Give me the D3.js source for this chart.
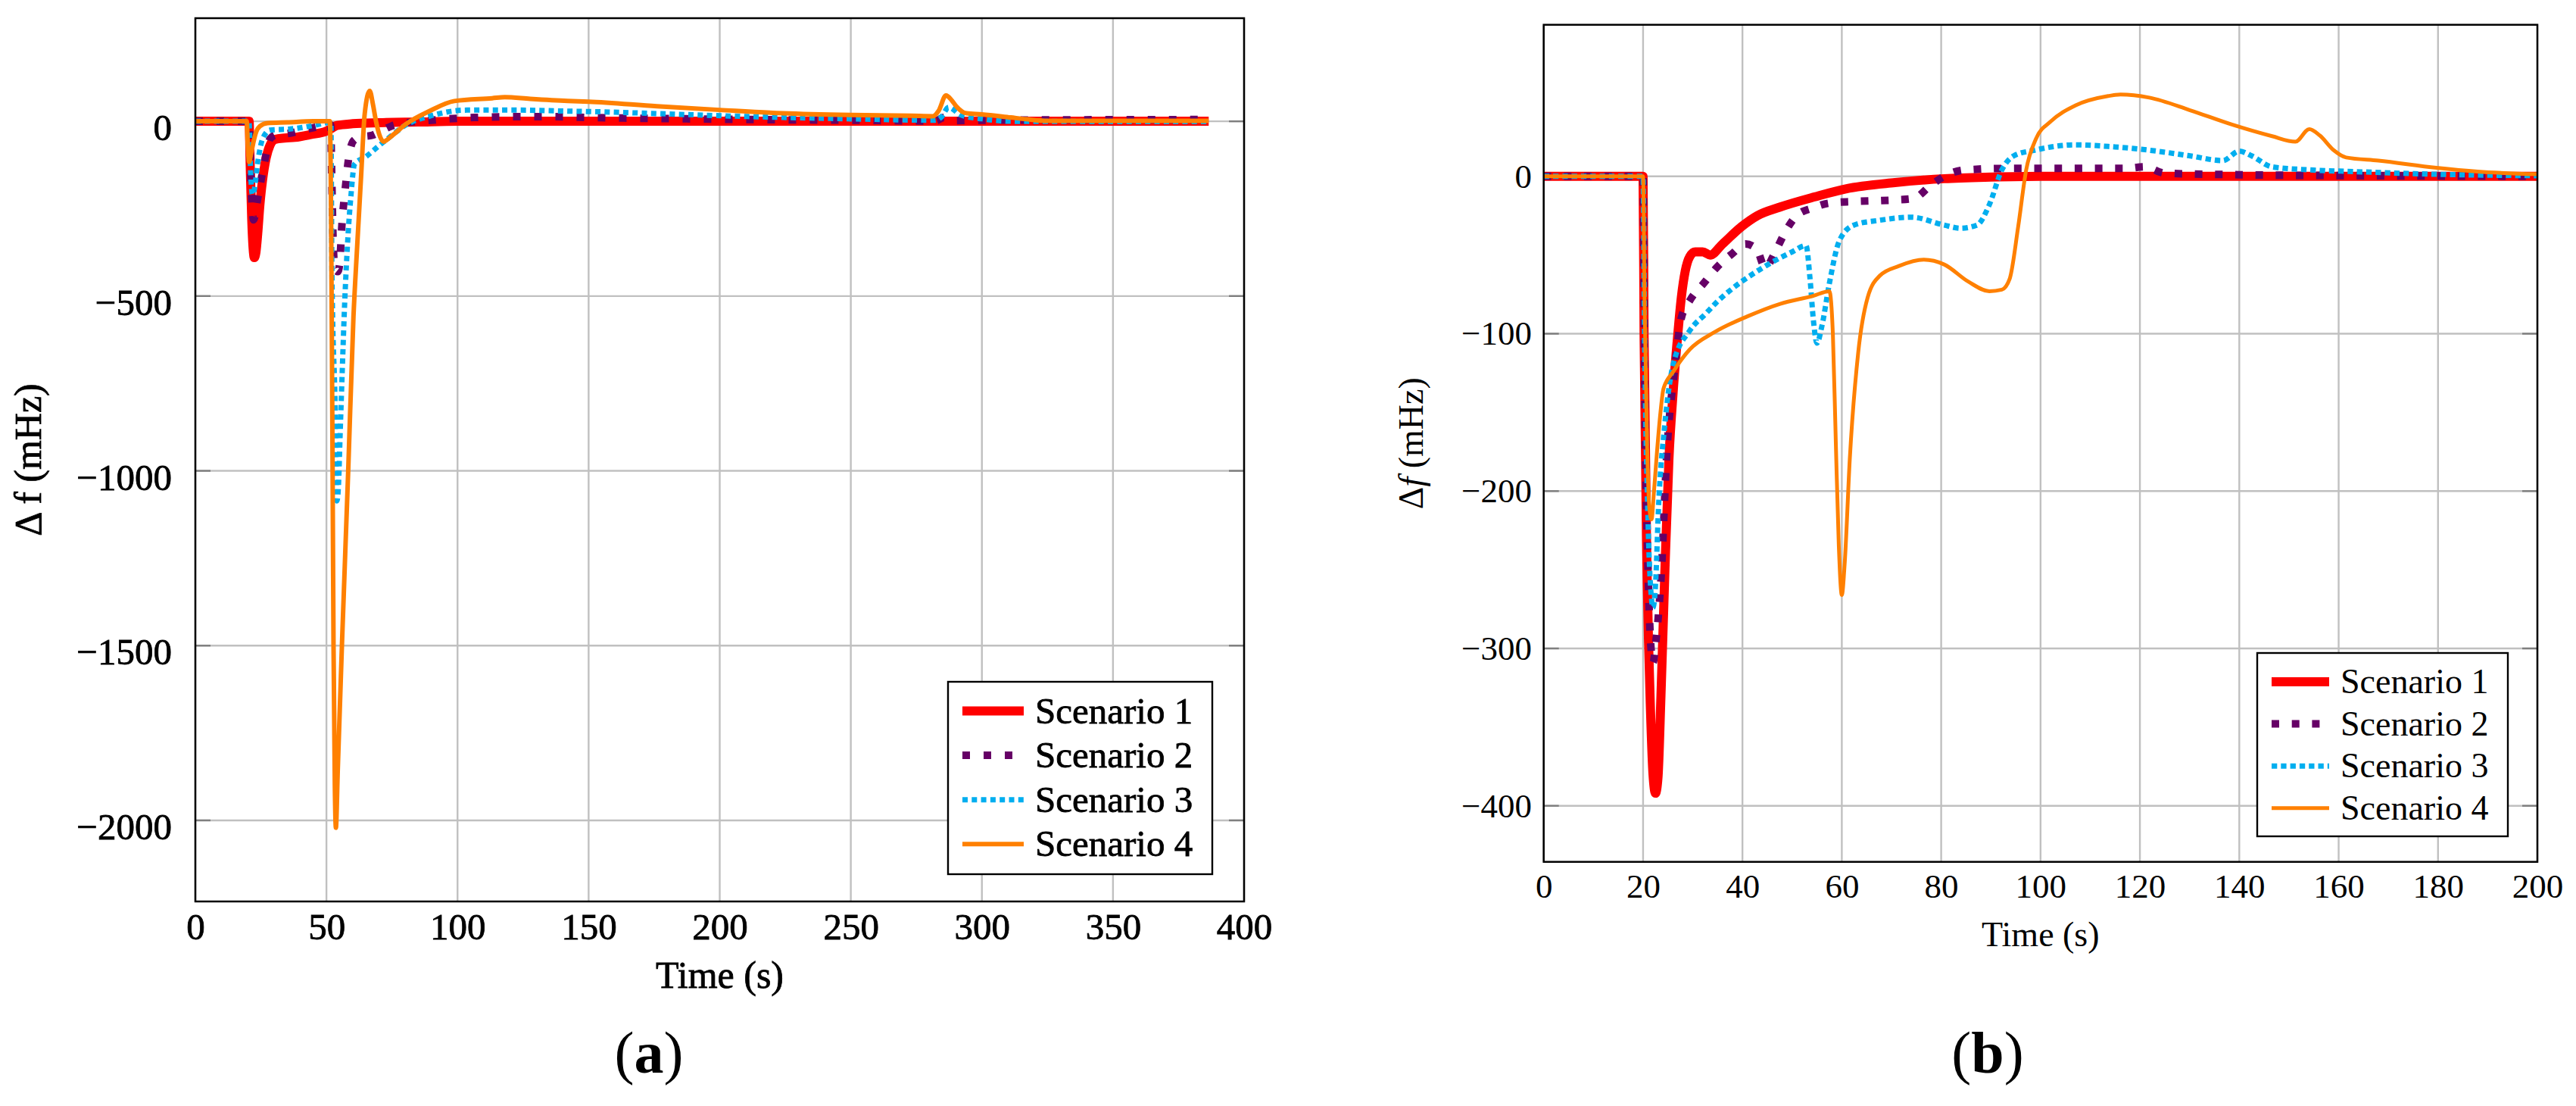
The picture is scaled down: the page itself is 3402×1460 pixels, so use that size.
<!DOCTYPE html>
<html><head><meta charset="utf-8">
<script src="https://cdn.jsdelivr.net/npm/d3@7"></script>
<style>body{margin:0;background:#fff} svg text{font-family:'Liberation Serif','DejaVu Serif',serif !important;fill:#000}</style>
</head><body><svg id="c" width="3402" height="1460"></svg>
<script>
// ---------- data ----------
const scenarios = ["Scenario 1", "Scenario 2", "Scenario 3", "Scenario 4"];
const colors = ["#ff0000", "#660066", "#00aeef", "#ff8000"];

const xTicksA = [0, 50, 100, 150, 200, 250, 300, 350, 400];
const yTicksA = [0, -500, -1000, -1500, -2000];
const xTicksB = [0, 20, 40, 60, 80, 100, 120, 140, 160, 180, 200];
const yTicksB = [0, -100, -200, -300, -400];

// Panel (a): [time s, delta f mHz]
const A_S1 = [[0,0],[20.5,0],[20.9,-120],[21.5,-280],[22,-360],[22.5,-390],[23.1,-375],[23.8,-320],[24.6,-240],[25.6,-170],[27,-105],[28.5,-68],[30.4,-52],[34,-48],[38,-46],[44,-38],[50,-28],[52,-20],[54,-12],[60,-7],[70,-4],[85,-2],[100,0],[200,0],[386.5,0]];
const A_S2 = [[0,0],[20.5,0],[20.9,-100],[21.5,-220],[22.2,-282],[22.9,-265],[23.8,-220],[25.1,-166],[26.6,-108],[28.5,-50],[31,-38],[35.2,-35],[42.9,-22],[50.2,-11],[51.6,-10],[52,-150],[52.5,-330],[53.2,-420],[54.3,-430],[55,-410],[55.9,-296],[57.4,-177],[58.3,-115],[60.3,-56],[63,-45],[67.5,-40],[71,-27],[74.7,-14],[80,-5],[90,3],[106.5,11],[122,13],[137,13],[150,11],[200,6],[250,3],[282,1],[285.7,11],[289,2],[300,3],[386.5,5]];
const A_S3 = [[0,0],[20.5,0],[20.9,-110],[21.8,-210],[22.6,-190],[23.7,-123],[25.6,-51],[28.5,-25],[36.2,-22],[45.8,-11],[50.2,-4],[51.7,-4],[52.1,-436],[53.3,-809],[54,-1086],[54.6,-1040],[55.2,-900],[56,-720],[56.9,-530],[58.3,-318],[59.3,-217],[60.7,-123],[65.1,-101],[70.8,-65],[75,-40],[79.5,-14],[89.1,14],[103.6,32],[123,32],[142,29],[150,28],[176,22],[200,16],[224,11],[250,7],[273,3.6],[282,3],[284.5,12],[287.3,40],[292,18],[300,7],[311,0],[386.5,-1]];
const A_S4 = [[0,0],[19.6,0],[20,-70],[20.5,-116],[21.2,-95],[22.2,-58],[23.2,-30],[24.6,-14],[27.5,-5],[35,-3],[45,0],[51.3,0],[51.8,-300],[52.2,-800],[52.7,-1500],[53.2,-1900],[53.6,-2021],[54.3,-1860],[55.9,-1500],[58.3,-1000],[60.3,-560],[61.7,-360],[63.2,-159],[64.6,22],[66.5,87],[67.7,50],[68.9,0],[70.5,-45],[71.8,-58],[74.7,-43],[80.5,-7],[89.2,29],[98.8,58],[113.2,66],[118,69],[127.7,64],[142,58],[150,56],[176,43],[200,32.5],[224,23],[250,18],[273,16],[281.3,14.5],[283.5,30],[286.3,74],[288.5,60],[290.2,43],[294.1,23],[300,20],[311,11],[317,6],[325,1.5],[386.5,1.4]];

// Panel (b): [time s, delta f mHz]
const B_S1 = [[0,0],[20,0],[20.2,-100],[20.8,-250],[21.5,-340],[22,-380],[22.5,-392],[23,-382],[23.6,-330],[24.4,-250],[25.2,-180],[26.1,-135],[27,-100],[27.7,-77],[28.5,-60],[29.4,-51],[30.5,-48],[32,-48],[33.5,-50],[36,-43],[39.8,-32],[43,-25],[47.5,-19.6],[54.6,-13],[60.8,-8],[70.7,-4],[80.6,-1.5],[90,-0.5],[100,0],[200,0]];
const B_S2 = [[0,0],[20,0],[20.3,-120],[21,-250],[21.6,-300],[22,-309],[22.6,-295],[23.6,-256],[24.8,-175],[26.4,-121],[27.7,-90],[29.4,-79],[32.2,-68],[34.8,-58],[38,-49],[40.6,-43],[42.8,-46],[44.6,-58],[46.6,-48],[48.5,-36],[50.9,-25],[54.2,-20],[57.5,-17],[62.4,-16],[70.7,-15],[74.5,-14],[77.8,-6],[80.6,0],[84.7,4],[93,5],[100.4,5],[117,5],[121,6],[125,2],[140,1],[160,0.5],[200,0]];
const B_S3 = [[0,0],[20,0],[20.3,-100],[21,-220],[21.6,-265],[22,-274],[22.5,-260],[23.1,-211],[24.4,-157],[26.1,-119],[29.4,-98],[32.7,-87],[34.8,-80],[37.7,-72],[42.6,-61],[44.9,-56.5],[50,-48],[52.8,-44],[53.6,-65],[54.3,-92],[55,-106],[56,-95],[57.5,-68],[59.5,-41],[62.4,-31],[67.4,-28],[74,-26],[80.6,-31],[83.9,-33],[87.2,-31],[89.7,-18],[92.2,4],[94.6,13],[98.8,16.6],[107,20],[113.6,19],[121.9,16.6],[130.1,13],[136.7,10],[140,16],[142.5,13],[146.6,6],[154.9,4],[163.2,3],[179.7,1.3],[200,0.4]];
const B_S4 = [[0,0],[20,0],[20.3,-80],[20.8,-170],[21.3,-212],[21.7,-218],[22.2,-200],[22.8,-175],[23.5,-150],[24.1,-135],[26.1,-124],[29.4,-110],[34.4,-99],[41,-89],[47.6,-81],[54.2,-76],[57.5,-73],[58.2,-100],[58.8,-170],[59.4,-235],[60,-266],[60.6,-245],[61.6,-180],[63.3,-112],[65.2,-77],[67.7,-63],[71.5,-57],[76.5,-53],[80.6,-56],[85.5,-67],[89.7,-73],[92.2,-72],[93.8,-65],[95.5,-32],[97.1,4],[99.1,24],[102.1,35],[107,45],[113.6,51],[116.1,52],[121.9,50],[130.1,42],[138.4,33],[146.6,25.5],[151.3,22],[154.1,30],[156.2,26],[159,16.6],[161.5,12],[168,10],[179.7,5.4],[188,3],[200,1.3]];

// ---------- drawing ----------
const FONT = "'Liberation Serif','DejaVu Serif',serif";
const svg = d3.select("#c");
svg.append("rect").attr("width",3402).attr("height",1460).attr("fill","#fff");

function styleText(sel, bold) {
  sel.style("font-family", FONT).style("fill", "#000")
     .style("stroke", bold ? "#000" : "none").style("stroke-width", bold ? 0.8 : 0);
  return sel;
}

function drawPanel(p) {
  const g = svg.append("g");
  const x = d3.scaleLinear().domain(p.xDomain).range([p.left, p.right]);
  const y = d3.scaleLinear().domain(p.yDomain).range([p.bottom, p.top]);
  const W = p.right - p.left, H = p.bottom - p.top;

  // grid
  g.append("g").selectAll("line").data(p.xTicks).join("line")
    .attr("x1", d => x(d)).attr("x2", d => x(d)).attr("y1", p.top).attr("y2", p.bottom)
    .attr("stroke", "#c0c0c0").attr("stroke-width", 2.4);
  g.append("g").selectAll("line").data(p.yTicks).join("line")
    .attr("x1", p.left).attr("x2", p.right).attr("y1", d => y(d)).attr("y2", d => y(d))
    .attr("stroke", "#c0c0c0").attr("stroke-width", 2.4);
  // inner y ticks (left and right)
  g.append("g").selectAll("line").data(p.yTicks).join("line")
    .attr("x1", p.left).attr("x2", p.left + 20).attr("y1", d => y(d)).attr("y2", d => y(d))
    .attr("stroke", "#7f7f7f").attr("stroke-width", 2.4);
  g.append("g").selectAll("line").data(p.yTicks).join("line")
    .attr("x1", p.right - 20).attr("x2", p.right).attr("y1", d => y(d)).attr("y2", d => y(d))
    .attr("stroke", "#7f7f7f").attr("stroke-width", 2.4);

  // clip
  svg.append("clipPath").attr("id", p.id + "clip").append("rect")
    .attr("x", p.left).attr("y", p.top).attr("width", W).attr("height", H);

  const line = d3.line().x(d => x(d[0])).y(d => y(d[1])).curve(d3.curveMonotoneX);
  const lg = g.append("g").attr("clip-path", `url(#${p.id}clip)`);
  p.series.forEach((s, i) => {
    const st = p.styles[i];
    lg.append("path").attr("d", line(s)).attr("fill", "none")
      .attr("stroke", colors[i]).attr("stroke-width", st.w)
      .attr("stroke-dasharray", st.dash || null)
      .attr("stroke-linejoin", "round");
  });

  // frame
  g.append("rect").attr("x", p.left).attr("y", p.top).attr("width", W).attr("height", H)
    .attr("fill", "none").attr("stroke", "#000").attr("stroke-width", 2.5);

  // tick labels via d3 axes
  const fmt = d3.format("d");
  const ax = g.append("g").attr("transform", `translate(0,${p.bottom})`)
    .call(d3.axisBottom(x).tickValues(p.xTicks).tickFormat(fmt).tickSize(0).tickPadding(p.xPad));
  ax.attr("font-family", null);
  ax.select(".domain").remove();
  styleText(ax.selectAll("text").attr("font-size", p.tickFont), p.bold);
  const ay = g.append("g").attr("transform", `translate(${p.left},0)`)
    .call(d3.axisLeft(y).tickValues(p.yTicks).tickFormat(fmt).tickSize(0).tickPadding(p.yPad));
  ay.attr("font-family", null);
  ay.select(".domain").remove();
  styleText(ay.selectAll("text").attr("font-size", p.tickFont).attr("dy", p.yDy), p.bold);

  // axis titles
  styleText(g.append("text").attr("x", (p.left + p.right) / 2).attr("y", p.xLabelY)
    .attr("text-anchor", "middle").attr("font-size", p.labelFont)
    .text("Time (s)"), p.bold);
  const yl = styleText(g.append("text").attr("transform", `translate(${p.yLabelX},${(p.top + p.bottom) / 2}) rotate(-90)`)
    .attr("text-anchor", "middle").attr("dy", "0.28em").attr("font-size", p.labelFont), p.bold);
  yl.append("tspan").text(p.italicF ? "Δ" : "Δ f");
  if (p.italicF) yl.append("tspan").style("font-style", "italic").text("f");
  yl.append("tspan").text(" (mHz)");

  // legend
  const L = p.legend;
  g.append("rect").attr("x", L.x0).attr("y", L.y0).attr("width", L.x1 - L.x0).attr("height", L.y1 - L.y0)
    .attr("fill", "#fff").attr("stroke", "#000").attr("stroke-width", 2.4);
  scenarios.forEach((name, i) => {
    const ry = L.row0 + i * L.rowH;
    const st = p.styles[i];
    g.append("line").attr("x1", L.s0).attr("x2", L.s1).attr("y1", ry).attr("y2", ry)
      .attr("stroke", colors[i]).attr("stroke-width", st.w).attr("stroke-dasharray", st.dash || null);
    styleText(g.append("text").attr("x", L.tx).attr("y", ry).attr("dy", "0.33em")
      .attr("font-size", L.font).text(name), p.bold);
  });

  // caption
  const cap = styleText(svg.append("text").attr("x", p.capX).attr("y", p.capY).attr("text-anchor", "middle")
    .attr("font-size", 78), false);
  cap.append("tspan").text("(");
  cap.append("tspan").style("font-weight", "bold").text(p.capLetter);
  cap.append("tspan").text(")");
}

drawPanel({
  id: "a", left: 258, right: 1643, top: 24, bottom: 1190,
  xDomain: [0, 400], yDomain: [-2232, 295],
  xTicks: xTicksA, yTicks: yTicksA,
  series: [A_S1, A_S2, A_S3, A_S4],
  styles: [{w: 12}, {w: 10, dash: "10 18"}, {w: 7, dash: "7 5.3"}, {w: 6}],
  tickFont: 49, xPad: 15, yPad: 31, yDy: "0.5em", labelFont: 50, bold: true,
  xLabelY: 1304, yLabelX: 40, italicF: false,
  legend: {x0: 1252, x1: 1601, y0: 900, y1: 1154, row0: 938.5, rowH: 58.6, s0: 1271, s1: 1352, tx: 1367, font: 49},
  capX: 857, capY: 1416, capLetter: "a"
});

drawPanel({
  id: "b", left: 2038.7, right: 3351, top: 32.7, bottom: 1137.7,
  xDomain: [0, 200], yDomain: [-435.6, 96.3],
  xTicks: xTicksB, yTicks: yTicksB,
  series: [B_S1, B_S2, B_S3, B_S4],
  styles: [{w: 12}, {w: 10, dash: "10 16.7"}, {w: 7, dash: "7.3 5"}, {w: 5}],
  tickFont: 45, xPad: 15, yPad: 15.7, yDy: "0.32em", labelFont: 46, bold: false,
  xLabelY: 1249, yLabelX: 1866, italicF: true,
  legend: {x0: 2981, x1: 3312, y0: 862, y1: 1104, row0: 900, rowH: 55.6, s0: 3000, s1: 3076, tx: 3091, font: 46},
  capX: 2625, capY: 1416, capLetter: "b"
});
</script></body></html>
